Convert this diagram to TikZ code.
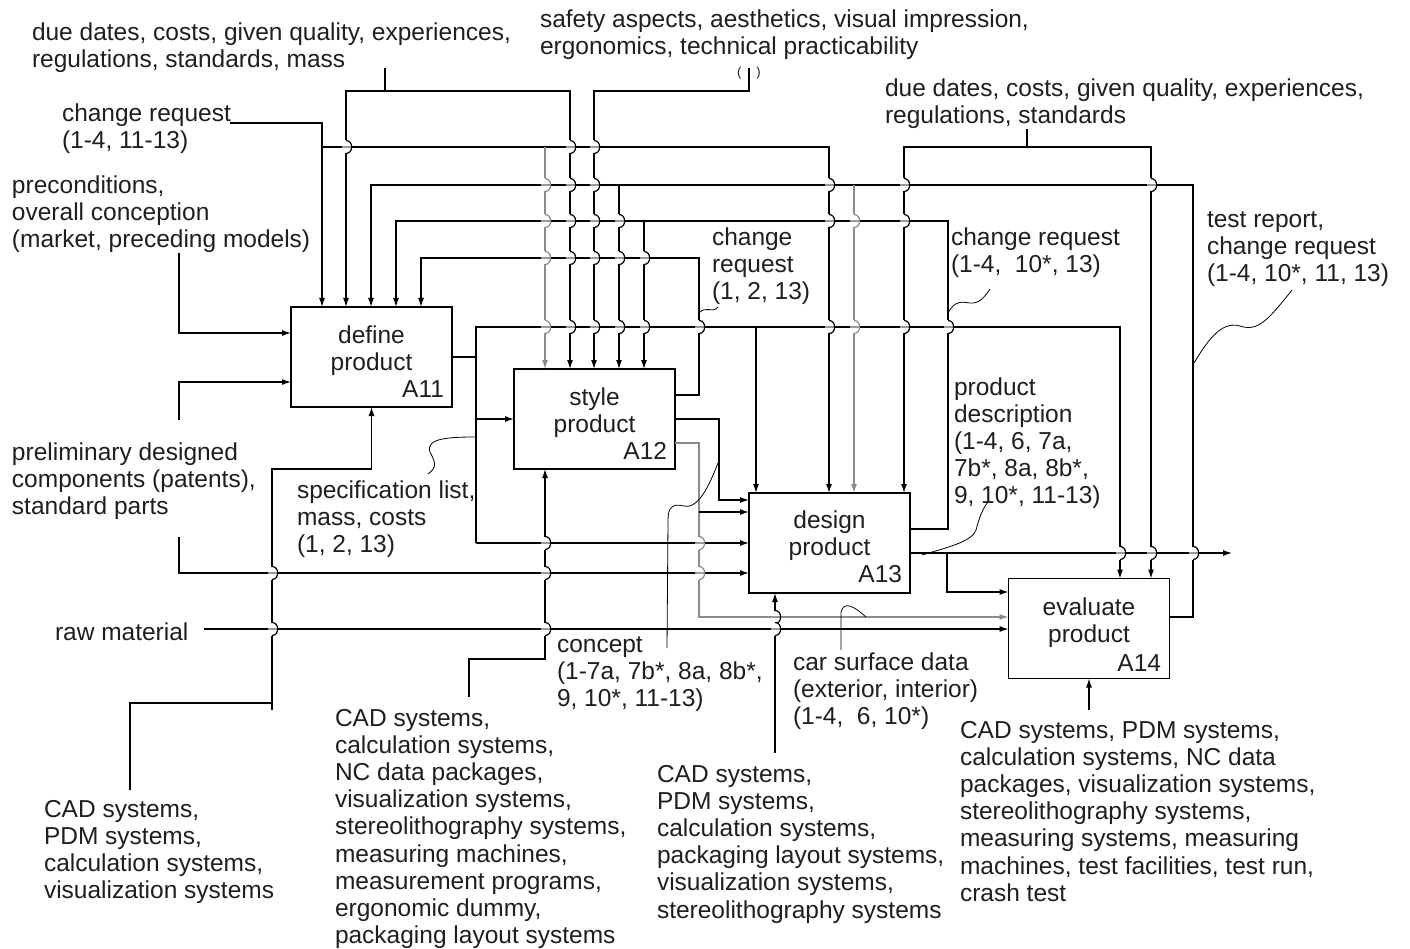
\documentclass[tikz,border=0pt]{standalone}
\usepackage{fontspec}
\setmainfont{Liberation Sans}
\usetikzlibrary{arrows.meta}
\newcommand{\lblfont}{\fontsize{24.5}{27.2}\selectfont}
\newcommand{\hopat}[3][black]{%
  \fill[white] (#2-1.8,#3-6.5) rectangle (#2+1.8,#3+6.5);
  \draw[black!40,line width=1.2pt] (#2-4.5,#3) -- (#2+4.5,#3);
  \draw[#1,line width=1.2pt] (#2,#3-6.5) .. controls (#2+7.5,#3-6.5) and (#2+7.5,#3+6.5) .. (#2,#3+6.5);
}
\begin{document}
\begin{tikzpicture}[x=1pt,y=-1pt,line width=1.2pt,
  every node/.style={inner sep=0pt,outer sep=0pt},
  box/.style={draw,minimum width=161pt,minimum height=100pt},
  lbl/.style={anchor=north west,align=left,font=\lblfont,text=black!88},
  btxt/.style={anchor=north,align=center,font=\lblfont,text=black!88},
  bid/.style={anchor=base east,font=\lblfont,text=black!88},
  arr/.style={-{Latex[length=9pt,width=6pt]}},
  gline/.style={black!45},
  lead/.style={line width=0.8pt}]
\useasboundingbox (0,0) rectangle (1410,949);
\fill[white] (0,0) rectangle (1410,949);

% boxes
\node[box] (A11) at (371.5,357) {};
\node[box] (A12) at (594.5,419) {};
\node[box] (A13) at (829.5,543) {};
\node[box] (A14) at (1089,628.5) {};
\node[btxt] (A11t) at (371.5,324) {\strut define\\product};
\node[bid] (A11n) at (444,397) {A11};
\node[btxt] (A12t) at (594.5,386) {\strut style\\product};
\node[bid] (A12n) at (667,459) {A12};
\node[btxt] (A13t) at (829.5,509) {\strut design\\product};
\node[bid] (A13n) at (902,582) {A13};
\node[btxt] (A14t) at (1089,596) {\strut evaluate\\product};
\node[bid] (A14n) at (1161,671) {A14};

% coordinates
\coordinate (crL) at (230,123); \coordinate (crLa) at (322,123);
\coordinate (crLb) at (322,147); \coordinate (crLc) at (545,147); \coordinate (crLd) at (829,147);
\coordinate (ddL) at (385,68); \coordinate (ddLj) at (385,91);
\coordinate (ddLa) at (346,91); \coordinate (ddLb) at (570,91);
\coordinate (sa) at (749,68); \coordinate (saj) at (749,91); \coordinate (sab) at (594,91);
\coordinate (ddR) at (1027,129); \coordinate (ddRj) at (1027,147);
\coordinate (ddRa) at (904,147); \coordinate (ddRb) at (1151,147);
\coordinate (fb4a) at (1193,617); \coordinate (fb4b) at (1193,185);
\coordinate (fb4c) at (371,185); \coordinate (fb4d) at (619,185); \coordinate (fb4e) at (854,185);
\coordinate (fb3a) at (948,529); \coordinate (fb3b) at (948,221);
\coordinate (fb3c) at (396,221); \coordinate (fb3d) at (644,221);
\coordinate (fb2a) at (699,395); \coordinate (fb2b) at (699,258); \coordinate (fb2c) at (421,258);
\coordinate (o1a) at (476,357); \coordinate (o1t) at (476,327); \coordinate (o1b) at (476,543);
\coordinate (o1m) at (476,419); \coordinate (o1r) at (1120,327); \coordinate (o1s) at (756,327);
\coordinate (s2a) at (719,419); \coordinate (s2b) at (719,500);
\coordinate (c2a) at (699,443); \coordinate (c2b) at (699,617); \coordinate (c2c) at (699,512);
\coordinate (o3a) at (947,553); \coordinate (o3end) at (1232,553); \coordinate (o3b) at (947,592);
\coordinate (rm) at (204,629);
\coordinate (pc) at (179,253); \coordinate (pcb) at (179,333);
\coordinate (pd1) at (179,420); \coordinate (pd1b) at (179,382);
\coordinate (pd2) at (179,537); \coordinate (pd2b) at (179,573);
\coordinate (m1) at (130,790); \coordinate (m1a) at (130,703); \coordinate (m1b) at (272,703);
\coordinate (m1e) at (272,710);
\coordinate (m1c) at (272,469); \coordinate (m1d) at (371.5,469);
\coordinate (m2) at (469,697); \coordinate (m2a) at (469,659); \coordinate (m2b) at (545,659);
\coordinate (m3) at (775,753);
\coordinate (m4) at (1089,710);

% connectors
\draw[arr] (crL) -- (crLa) -- (crLa |- A11.north);
\draw[arr] (crLb) -- (crLd) -- (crLd |- A13.north);
\draw[arr,gline] (crLc) -- (crLc |- A12.north);
\draw (ddL) -- (ddLj);
\draw[arr] (ddLj) -- (ddLa) -- (ddLa |- A11.north);
\draw[arr] (ddLj) -- (ddLb) -- (ddLb |- A12.north);
\draw[arr] (sa) -- (saj) -- (sab) -- (sab |- A12.north);
\draw (ddR) -- (ddRj);
\draw[arr] (ddRj) -- (ddRa) -- (ddRa |- A13.north);
\draw[arr] (ddRj) -- (ddRb) -- (ddRb |- A14.north);
\draw[arr] (fb4a -| A14.east) -- (fb4a) -- (fb4b) -- (fb4c) -- (fb4c |- A11.north);
\draw[arr] (fb4d) -- (fb4d |- A12.north);
\draw[arr,gline] (fb4e) -- (fb4e |- A13.north);
\draw[arr] (fb3a -| A13.east) -- (fb3a) -- (fb3b) -- (fb3c) -- (fb3c |- A11.north);
\draw[arr] (fb3d) -- (fb3d |- A12.north);
\draw[arr] (fb2a -| A12.east) -- (fb2a) -- (fb2b) -- (fb2c) -- (fb2c |- A11.north);
\draw (A11.east) -- (o1a);
\draw[arr] (o1b) -- (o1t) -- (o1r) -- (o1r |- A14.north);
\draw[arr] (o1m) -- (o1m -| A12.west);
\draw[arr] (o1b) -- (o1b -| A13.west);
\draw[arr] (o1s) -- (o1s |- A13.north);
\draw[arr] (A12.east) -- (s2a) -- (s2b) -- (s2b -| A13.west);
\draw[arr,gline] (c2a -| A12.east) -- (c2a) -- (c2b) -- (c2b -| A14.west);
\draw[arr] (c2c) -- (c2c -| A13.west);
\draw[arr] (o3a -| A13.east) -- (o3end);
\draw[arr] (o3a) -- (o3b) -- (o3b -| A14.west);
\draw[arr] (rm) -- (rm -| A14.west);
\draw[arr] (pc) -- (pcb) -- (pcb -| A11.west);
\draw[arr] (pd1) -- (pd1b) -- (pd1b -| A11.west);
\draw[arr] (pd2) -- (pd2b) -- (pd2b -| A13.west);
\draw[arr] (m1) -- (m1a) -- (m1b) -- (m1c) -- (m1d) -- (A11.south);
\draw (m1b) -- (m1e);
\draw[arr] (m2) -- (m2a) -- (m2b) -- (m2b |- A12.south);
\draw[arr] (m3) -- (m3 |- A13.south);
\draw[arr] (m4) -- (A14.south);

% hops
\hopat{346}{147}
\hopat[black!45]{545}{185}\hopat[black!45]{545}{221}\hopat[black!45]{545}{258}\hopat[black!45]{545}{327}
\hopat{570}{147}\hopat{570}{185}\hopat{570}{221}\hopat{570}{258}\hopat{570}{327}
\hopat{594}{147}\hopat{594}{185}\hopat{594}{221}\hopat{594}{258}\hopat{594}{327}
\hopat{619}{221}\hopat{619}{258}\hopat{619}{327}
\hopat{644}{258}\hopat{644}{327}
\hopat{699}{327}
\hopat{829}{185}\hopat{829}{221}\hopat{829}{327}
\hopat[black!45]{854}{221}\hopat[black!45]{854}{327}
\hopat{904}{185}\hopat{904}{221}\hopat{904}{327}
\hopat{948}{327}
\hopat{1120}{553}\hopat{1151}{185}\hopat{1151}{553}\hopat{1193}{553}
\hopat{545}{543}\hopat{545}{573}\hopat{545}{629}
\hopat[black!45]{699}{543}\hopat[black!45]{699}{573}
\hopat{272}{573}\hopat{272}{629}
\hopat{775}{617}\hopat{775}{629}

% leaders
\draw[lead] (699,313) .. controls (706,305) and (712,314) .. (718,307);
\draw[lead] (948,313) .. controls (955,300) and (962,302) .. (970,303) .. controls (980,304) and (985,296) .. (990,289);
\draw[lead] (1194,363) .. controls (1205,345) and (1220,320) .. (1240,326) .. controls (1258,332) and (1268,320) .. (1292,290);
\draw[lead] (476,437) .. controls (450,437) and (425,438) .. (430,452) .. controls (435,462) and (438,467) .. (428,474);
\draw[lead] (718,463) .. controls (712,478) and (700,510) .. (684,506) .. controls (672,503) and (668,508) .. (668,520) -- (667,648);
\draw[lead] (866,617) .. controls (855,607) and (844,600) .. (841,612) -- (841,650);
\draw[lead] (922,555) .. controls (945,548) and (972,542) .. (976,530) .. controls (979,518) and (983,508) .. (988,502);

% labels
\node[lbl] (tDDL) at (32,21) {\strut due dates, costs, given quality, experiences,\\regulations, standards, mass};
\node[lbl] (tSA) at (540,8) {\strut safety aspects, aesthetics, visual impression,\\ergonomics, technical practicability};
\node[font=\fontsize{13}{13}\selectfont,text=black!88] (tPar) at (749,73) {(\hspace{15pt})};
\node[lbl] (tCR1) at (62,102) {\strut change request\\(1-4, 11-13)};
\node[lbl] (tPC) at (12,174) {\strut preconditions,\\overall conception\\(market, preceding models)};
\node[lbl] (tDDR) at (885,77) {\strut due dates, costs, given quality, experiences,\\regulations, standards};
\node[lbl] (tCR2) at (712,226) {\strut change\\request\\(1, 2, 13)};
\node[lbl] (tCR3) at (951,226) {\strut change request\\(1-4,\ \ 10*, 13)};
\node[lbl] (tTR) at (1207,208) {\strut test report,\\change request\\(1-4, 10*, 11, 13)};
\node[lbl] (tPD) at (954,376) {\strut product\\description\\(1-4, 6, 7a,\\7b*, 8a, 8b*,\\9, 10*, 11-13)};
\node[lbl] (tPR) at (12,441) {\strut preliminary designed\\components (patents),\\standard parts};
\node[lbl] (tSL) at (297,479) {\strut specification list,\\mass, costs\\(1, 2, 13)};
\node[lbl] (tRM) at (55,621) {\strut raw material};
\node[lbl] (tCO) at (557,633) {\strut concept\\(1-7a, 7b*, 8a, 8b*,\\9, 10*, 11-13)};
\node[lbl] (tCS) at (793,651) {\strut car surface data\\(exterior, interior)\\(1-4,\ \ 6, 10*)};
\node[lbl] (tM1) at (44,798) {\strut CAD systems,\\PDM systems,\\calculation systems,\\visualization systems};
\node[lbl] (tM2) at (335,707) {\strut CAD systems,\\calculation systems,\\NC data packages,\\visualization systems,\\stereolithography systems,\\measuring machines,\\measurement programs,\\ergonomic dummy,\\packaging layout systems};
\node[lbl] (tM3) at (657,763) {\strut CAD systems,\\PDM systems,\\calculation systems,\\packaging layout systems,\\visualization systems,\\stereolithography systems};
\node[lbl] (tM4) at (960,719) {\strut CAD systems, PDM systems,\\calculation systems, NC data\\packages, visualization systems,\\stereolithography systems,\\measuring systems, measuring\\machines, test facilities, test run,\\crash test};
\end{tikzpicture}
\end{document}
